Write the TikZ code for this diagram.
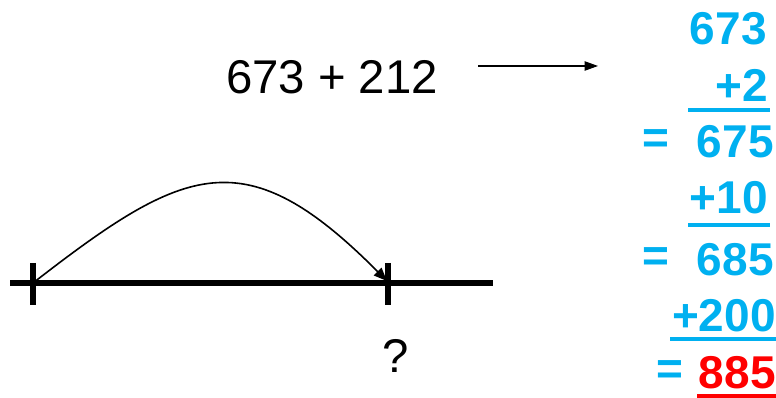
\documentclass[tikz,border=0pt]{standalone}
\usepackage{fontspec}
\setmainfont{Liberation Sans}
\usetikzlibrary{arrows.meta, positioning}

\definecolor{skyblue}{HTML}{00B0F0}

\begin{document}
\begin{tikzpicture}[x=0.75pt, y=-0.75pt, >=Triangle,
    workstep/.style={font=\fontsize{34.5}{40}\selectfont\bfseries, text=skyblue,
                 inner sep=0pt, anchor=east},
    uline/.style={line width=3.6pt, skyblue},
    numline/.style={line width=4.5pt}]
  \useasboundingbox (0,0) rectangle (776,398);

  % the sum and the hint arrow
  \node[font=\fontsize{35.5}{40}\selectfont, inner sep=0pt] (sum) at (332,77) {673 + 212};
  \coordinate (arrA) at (478,66);
  \coordinate (arrB) at (598,66);
  \draw[-{Triangle[length=10pt, width=7pt]}, line width=0.8pt] (arrA) -- (arrB);

  % column working
  \node[workstep] (n673) at (767,29) {673};
  \node[workstep] (p2)   at (768,85) {+2};
  \node[workstep] (n675) at (774,142) {675};
  \node[workstep] (p10)  at (768,198) {+10};
  \node[workstep] (n685) at (774,260) {685};
  \node[workstep] (p200) at (776,316) {+200};
  \node[workstep, text=red] (n885) at (776,373) {885};
  \node[workstep] (eqA) at (670,142) {=};
  \node[workstep] (eqB) at (670,260) {=};
  \node[workstep] (eqC) at (684,373) {=};

  \draw[uline] (688,110) -- (770,110);
  \draw[uline] (688,225) -- (770,225);
  \draw[uline] (670,339) -- (776,339);
  \draw[uline, red] (697,396) -- (776,396);

  % number line
  \coordinate (lineL) at (10,283);
  \coordinate (lineR) at (493,283);
  \coordinate (tickA) at (33,283);
  \coordinate (tickB) at (387,281);
  \draw[numline] (lineL) -- (lineR);
  \draw[numline] (33,263) -- (33,305);
  \draw[numline] (388,263) -- (388,305);
  \draw[-{Triangle[length=10pt, width=8pt]}, line width=1.2pt]
    (tickA) .. controls (185,165) and (245,138) .. (tickB);

  \node[font=\fontsize{35.5}{40}\selectfont, inner sep=0pt] (ask) at (396,356) {?};
\end{tikzpicture}
\end{document}
